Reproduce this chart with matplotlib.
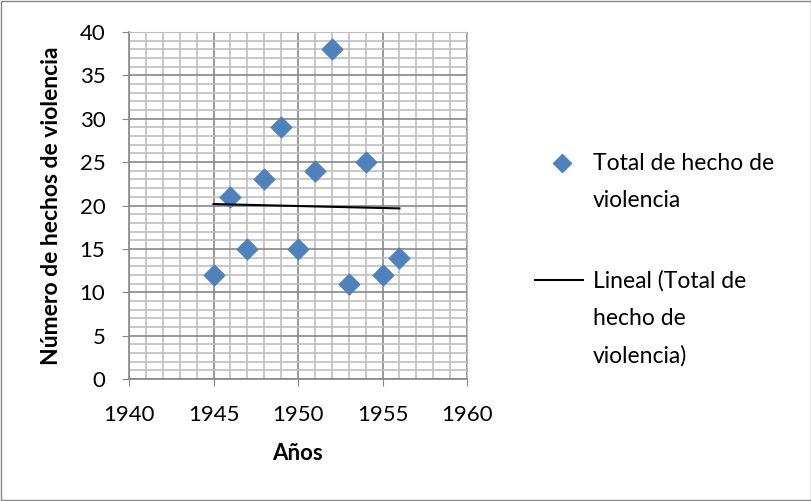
import numpy as np
import matplotlib.pyplot as plt
from matplotlib.ticker import MultipleLocator
from matplotlib.patches import Rectangle
from matplotlib.lines import Line2D

years = [1945, 1946, 1947, 1948, 1949, 1950, 1951, 1952, 1953, 1954, 1955, 1956]
hechos = [12, 21, 15, 23, 29, 15, 24, 38, 11, 25, 12, 14]

serie_label = 'Total de hecho de\nviolencia'
tendencia_label = 'Lineal (Total de\nhecho de\nviolencia)'

plt.rcParams['font.family'] = ['Lato', 'DejaVu Sans']

W, H = 812, 501
fig = plt.figure(figsize=(W / 100, H / 100), dpi=100)
ax = fig.add_axes([129 / W, 1 - 379 / H, (467 - 129) / W, (379 - 32) / H])

# grid: major every 5, minor every 1
ax.set_xlim(1940, 1960)
ax.set_ylim(0, 40)
ax.xaxis.set_major_locator(MultipleLocator(5))
ax.xaxis.set_minor_locator(MultipleLocator(1))
ax.yaxis.set_major_locator(MultipleLocator(5))
ax.yaxis.set_minor_locator(MultipleLocator(1))
ax.grid(which='minor', color='#bfbfbf', linewidth=1.2)
ax.grid(which='major', color='#878787', linewidth=1.2)
ax.set_axisbelow(True)

ax.scatter(years, hechos, marker='D', s=110, color='#4f81bd', zorder=3)

# linear trend
slope, intercept = np.polyfit(years, hechos, 1)
xt = np.array([years[0], years[-1]])
ax.plot(xt, slope * xt + intercept, color='black', linewidth=1.5, zorder=4)

for side in ('top', 'right'):
    ax.spines[side].set_color('#bfbfbf')
for side in ('left', 'bottom'):
    ax.spines[side].set_color('#878787')
    ax.spines[side].set_linewidth(1.2)

ax.tick_params(which='major', direction='out', length=5, color='#878787',
               labelsize=16)
ax.tick_params(axis='x', pad=13.5)
ax.tick_params(axis='y', pad=12)
ax.tick_params(which='minor', length=0)

ax.set_xlabel('Años', fontsize=16, fontweight='bold', labelpad=13.5)
ax.set_ylabel('Número de hechos de violencia', fontsize=16.5, fontweight='bold', labelpad=13)


# legend keys aligned with the first line of each entry, like the spreadsheet one
def fx(px):
    return px / W


def fy(py):
    return 1 - py / H


fig.add_artist(Line2D([fx(562)], [fy(163)], marker='D', markersize=9.5,
                      color='#4f81bd', linestyle='none', transform=fig.transFigure))
fig.text(fx(593), fy(163 - 10), serie_label, fontsize=16.5, va='top', ha='left',
         linespacing=1.95)
fig.add_artist(Line2D([fx(535), fx(583)], [fy(280), fy(280)], color='black',
                      linewidth=1.5, transform=fig.transFigure))
fig.text(fx(593), fy(280 - 10), tendencia_label, fontsize=16.5, va='top', ha='left',
         linespacing=1.95)

# chart area border
fig.patches.append(Rectangle((1 / W, 1 / H), 810 / W, 499 / H,
                             transform=fig.transFigure, fill=False,
                             edgecolor='#868686', linewidth=1))

fig.savefig('out.png', dpi=100)
